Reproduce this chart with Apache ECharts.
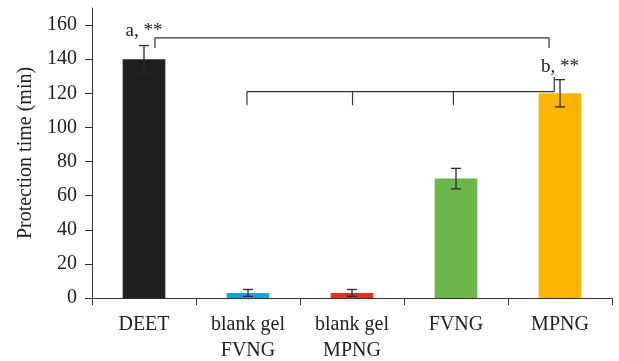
<!DOCTYPE html>
<html><head><meta charset="utf-8">
<script src="https://cdn.jsdelivr.net/npm/echarts@6/dist/echarts.min.js"></script>
<style>html,body{margin:0;padding:0;background:#fff}#c{width:619px;height:361px}</style>
</head><body><div id="c"></div>
<script>
const categories = ['DEET', 'blank gel\nFVNG', 'blank gel\nMPNG', 'FVNG', 'MPNG'];
const values = [140, 3, 3, 70, 120];
const errors = [8, 2, 2, 6, 8];
const barColors = ['#1e1f21', '#1ba1d9', '#e3301f', '#6db64c', '#fbb500'];
const yTicks = [0, 20, 40, 60, 80, 100, 120, 140, 160];
// brackets: legs [category, offset in band widths, leg end value], y = value of horizontal line
const bracketTop = { legs: [[0, 0.105, 146.5], [4, -0.105, 146.5]], y: 152.5 };
const bracketLow = { legs: [[1, -0.01, 113], [2, 0.005, 113], [3, -0.025, 113], [4, -0.055, 129.5]], y: 121 };
const annotations = [[0, 156.5, 'a, **'], [4, 135.5, 'b, **']];

const font = 'Liberation Serif';
const ink = '#333';

const chart = echarts.init(document.getElementById('c'), null, { renderer: 'canvas' });
chart.setOption({
  animation: false,
  grid: { left: 92, right: 7, top: 8, bottom: 63, containLabel: false, outerBoundsMode: 'none' },
  xAxis: {
    type: 'category', data: categories,
    axisLine: { lineStyle: { color: ink, width: 1 } },
    axisTick: { show: true, length: 7, lineStyle: { color: ink } },
    axisLabel: { color: '#222', fontFamily: font, fontSize: 20, lineHeight: 26, margin: 14 }
  },
  yAxis: {
    type: 'value', min: 0, max: 170, interval: 10,
    name: 'Protection time (min)', nameLocation: 'middle', nameGap: 56,
    nameTextStyle: { color: '#222', fontFamily: font, fontSize: 20 },
    axisLine: { show: true, lineStyle: { color: ink, width: 1 } },
    axisTick: { show: true, length: 7, lineStyle: { color: ink }, customValues: yTicks },
    axisLabel: { color: '#222', fontFamily: font, fontSize: 20, margin: 15, customValues: yTicks },
    splitLine: { show: false }
  },
  series: [
    {
      type: 'bar', barWidth: '41%',
      data: values.map((v, i) => ({ value: v, itemStyle: { color: barColors[i] } }))
    },
    {
      type: 'custom', z: 5,
      data: values.map((v, i) => [i, v - errors[i], v + errors[i]]),
      renderItem(params, api) {
        const lo = api.coord([api.value(0), api.value(1)]);
        const hi = api.coord([api.value(0), api.value(2)]);
        const w = 5;
        const st = { stroke: '#2a2a2a', lineWidth: 1.3 };
        return { type: 'group', children: [
          { type: 'line', shape: { x1: hi[0], y1: hi[1], x2: lo[0], y2: lo[1] }, style: st },
          { type: 'line', shape: { x1: hi[0] - w, y1: hi[1], x2: hi[0] + w, y2: hi[1] }, style: st },
          { type: 'line', shape: { x1: lo[0] - w, y1: lo[1], x2: lo[0] + w, y2: lo[1] }, style: st }
        ] };
      }
    },
    {
      type: 'custom', z: 6,
      data: [[0], [1]],
      renderItem(params, api) {
        const b = [bracketTop, bracketLow][params.dataIndex];
        const band = api.size([1, 0])[0];
        const st = { stroke: ink, lineWidth: 1.2, fill: null };
        const pts = b.legs.map(l => {
          const p = api.coord([l[0], b.y]);
          const e = api.coord([l[0], l[2]]);
          return [p[0] + l[1] * band, p[1], e[1]];
        });
        const children = [{ type: 'line', shape: { x1: pts[0][0], y1: pts[0][1], x2: pts[pts.length - 1][0], y2: pts[0][1] }, style: st }];
        pts.forEach(p => children.push({ type: 'line', shape: { x1: p[0], y1: p[1], x2: p[0], y2: p[2] }, style: st }));
        return { type: 'group', children };
      }
    },
    {
      type: 'custom', z: 7,
      data: annotations,
      renderItem(params, api) {
        const p = api.coord([api.value(0), api.value(1)]);
        return { type: 'text', x: p[0], y: p[1], style: { text: annotations[params.dataIndex][2], fill: '#222', font: '19px "Liberation Serif"', align: 'center', verticalAlign: 'middle' } };
      }
    }
  ]
});
</script></body></html>
